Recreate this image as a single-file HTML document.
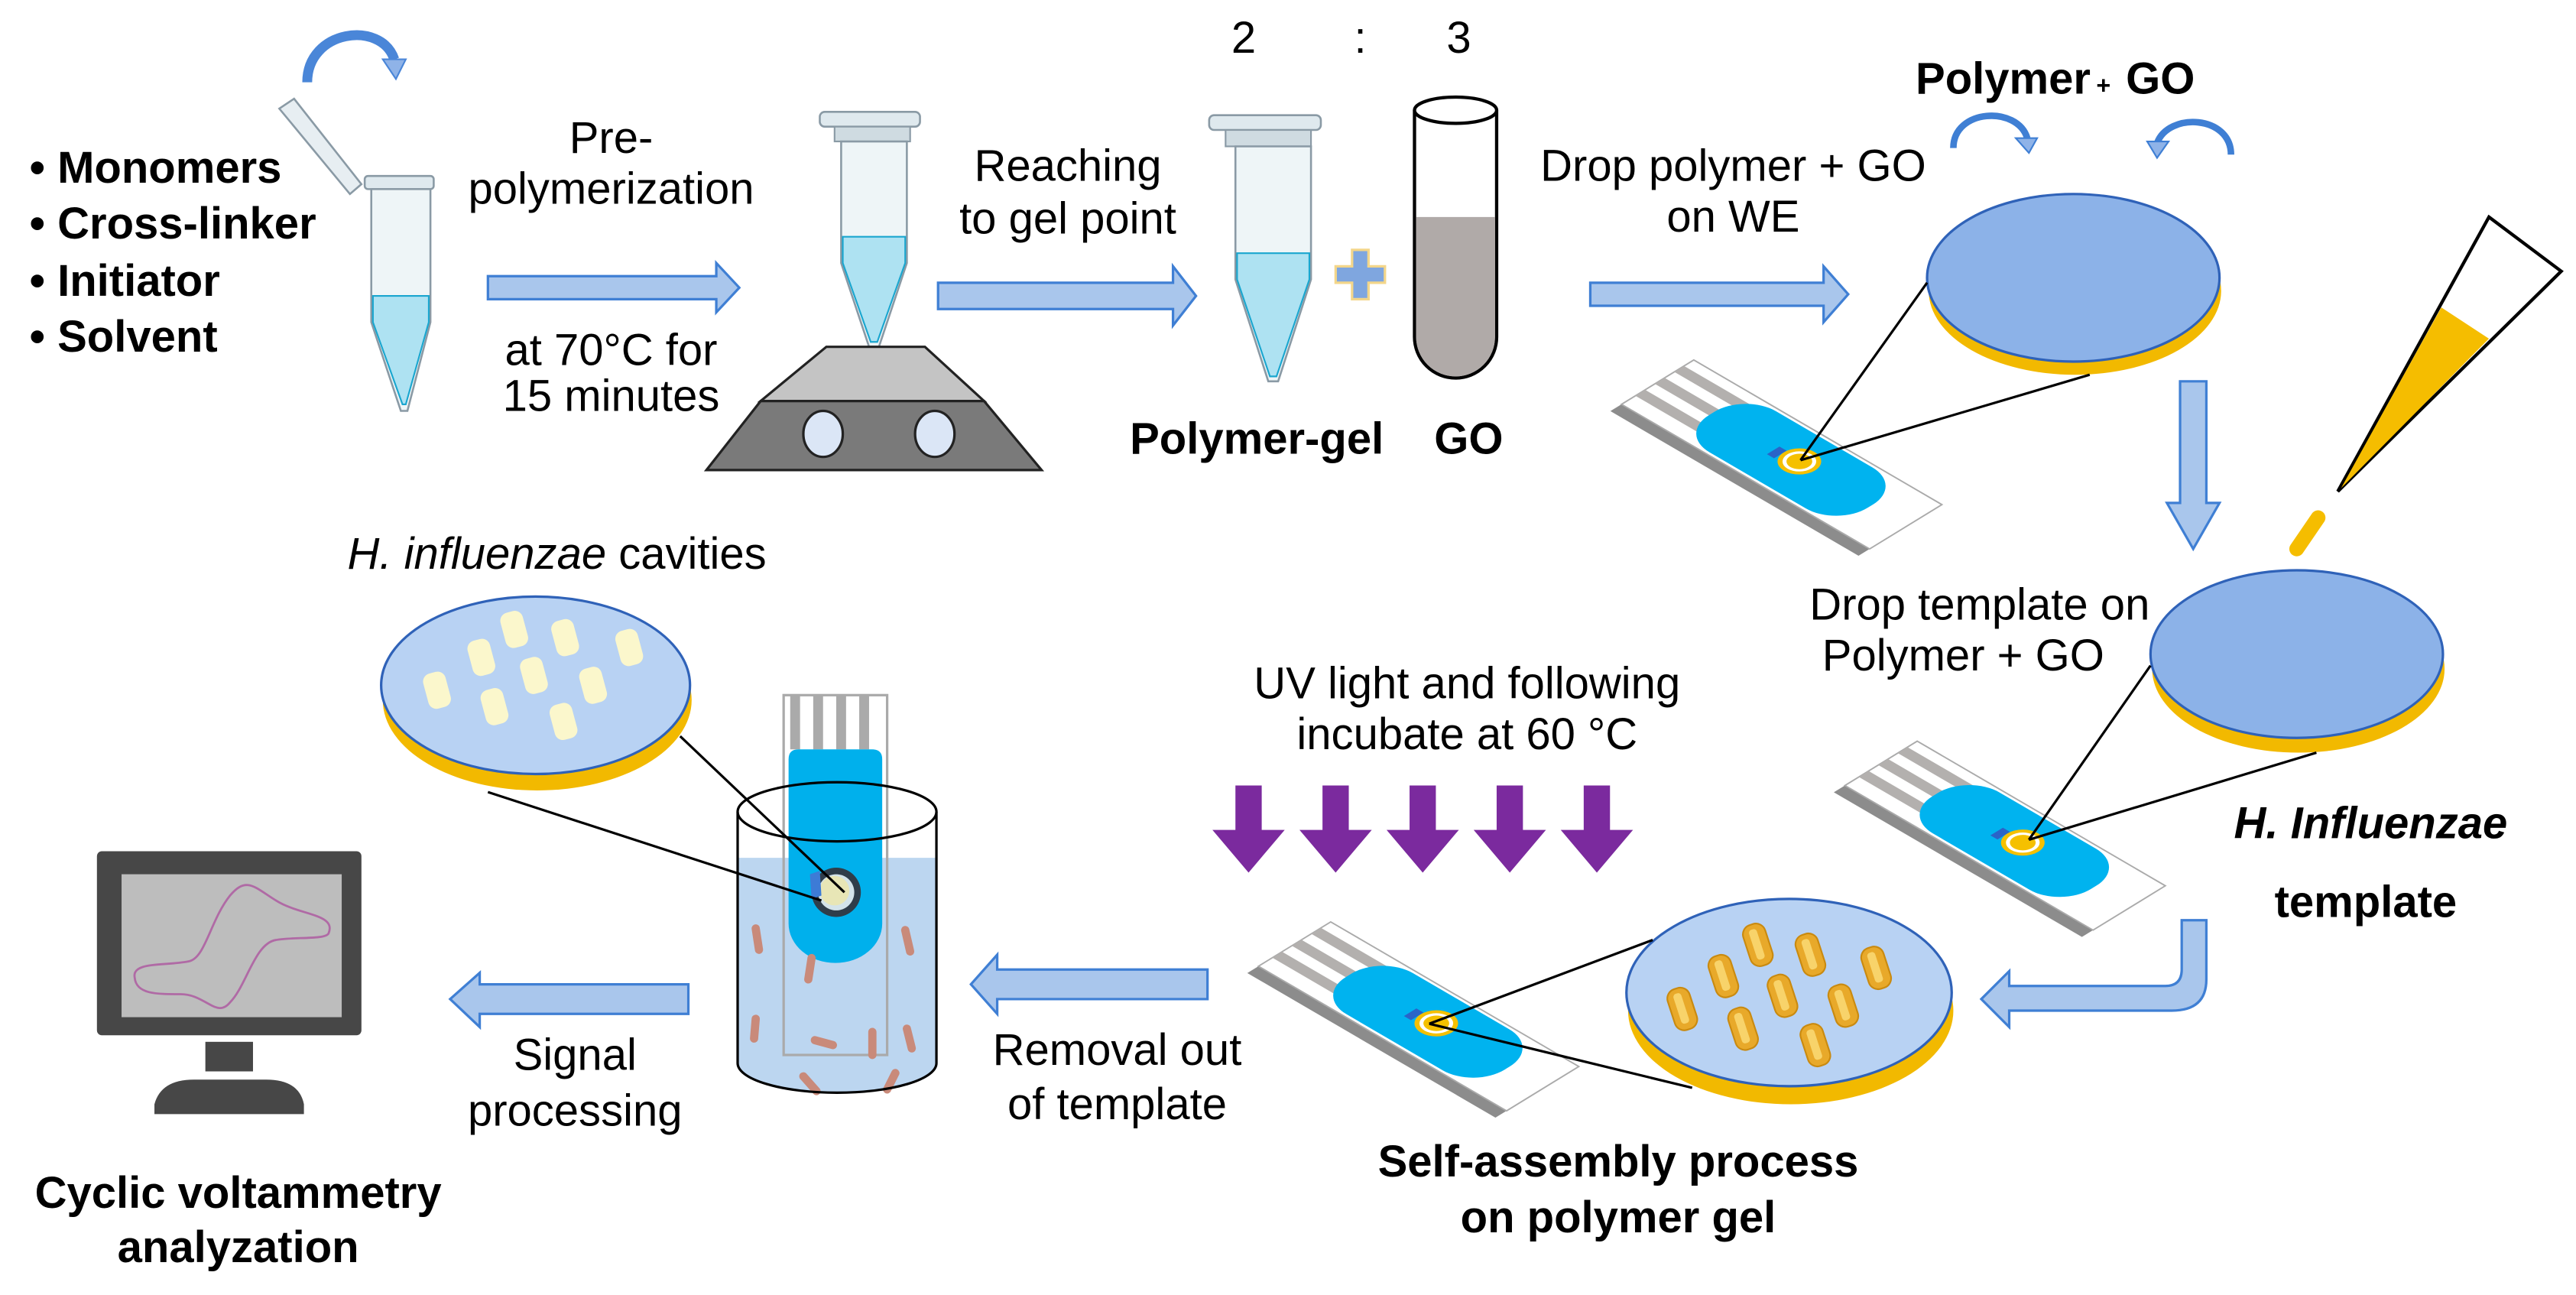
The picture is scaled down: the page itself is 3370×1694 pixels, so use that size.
<!DOCTYPE html>
<html><head><meta charset="utf-8"><style>
html,body{margin:0;padding:0;background:#fff;}
svg{display:block;}
text{font-family:"Liberation Sans",Arial,sans-serif;fill:#000;}
.t{font-size:27px;}
.b{font-size:27px;font-weight:bold;}
</style></head><body>
<svg width="3370" height="1694" viewBox="0 0 1568 788" xmlns="http://www.w3.org/2000/svg">
<defs>
  <g id="stripface">
    <rect x="0" y="0" width="175" height="52" fill="#fff" stroke="#aaa" stroke-width="1"/>
    <rect x="0" y="7" width="50" height="7" fill="#b3b0ae"/>
    <rect x="0" y="21" width="50" height="7" fill="#b3b0ae"/>
    <rect x="0" y="35" width="50" height="7" fill="#b3b0ae"/>
    <rect x="38" y="2" width="112" height="48" rx="22" fill="#00b3ef"/>
    <circle cx="98" cy="24" r="11" fill="#f5c000"/>
    <circle cx="98" cy="24" r="8.5" fill="#fff"/>
    <circle cx="98" cy="24" r="6.5" fill="#f5c000"/>
    <rect x="82" y="22" width="5" height="9" fill="#2a64c8"/>
  </g>
  <g id="strip">
    <g transform="translate(0,8)"><rect x="0" y="0" width="175" height="52" fill="#8c8c8c"/></g>
    <use href="#stripface"/>
  </g>
  <g id="rod">
    <rect x="-7" y="-13" width="14" height="26" rx="6" fill="#e8a92a" stroke="#c98a10" stroke-width="1"/>
    <rect x="-3" y="-10" width="5" height="19" rx="2" fill="#f8d36a"/>
  </g>
  <g id="cav"><rect x="-7" y="-11" width="14" height="22" rx="5" fill="#fbf7cc"/></g>
</defs>

<!-- Top-left bullets -->
<text x="18" y="111" class="b">• Monomers</text>
<text x="18" y="145" class="b">• Cross-linker</text>
<text x="18" y="180" class="b">• Initiator</text>
<text x="18" y="214" class="b">• Solvent</text>

<!-- curved arrow above tube 1 -->
<path d="M187,50 C187,18 232,12 240,36" fill="none" stroke="#4a86d8" stroke-width="6"/>
<polygon points="233,36 247,36 241,48" fill="#8fb3e8" stroke="#4a86d8" stroke-width="1"/>

<!-- Tube 1 with open cap -->
<polygon points="170,66 179,60 220,112 213,118" fill="#e7eef2" stroke="#8a9aa5" stroke-width="1.2"/>
<rect x="222" y="107" width="42" height="8" rx="2" fill="#dfe9ee" stroke="#8a9aa5" stroke-width="1.2"/>
<path d="M226,115 L262,115 L262,196 L248,250 L244,250 L226,196 Z" fill="#eef5f7" stroke="#8a9aa5" stroke-width="1.2"/>
<path d="M227,180 L261,180 L261,196 L247,246 L245,246 L227,196 Z" fill="#aee2f2" stroke="#1aa6cf" stroke-width="1"/>

<!-- Arrow 1 -->
<polygon points="297,168 436,168 436,160 450,175 436,190 436,182 297,182" fill="#a9c6ec" stroke="#3f7fd4" stroke-width="1.5"/>
<text x="372" y="93" class="t" text-anchor="middle">Pre-</text>
<text x="372" y="124" class="t" text-anchor="middle">polymerization</text>
<text x="372" y="222" class="t" text-anchor="middle">at 70°C for</text>
<text x="372" y="250" class="t" text-anchor="middle">15 minutes</text>

<!-- Tube 2 on heater -->
<rect x="499" y="68" width="61" height="9" rx="3" fill="#dfe9ee" stroke="#8a9aa5" stroke-width="1.2"/>
<rect x="508" y="77" width="46" height="9" fill="#cfdbe1" stroke="#8a9aa5" stroke-width="1"/>
<path d="M512,86 L552,86 L552,160 L535,211 L529,211 L512,160 Z" fill="#eef5f7" stroke="#8a9aa5" stroke-width="1.2"/>
<path d="M513,144 L551,144 L551,160 L534,208 L530,208 L513,160 Z" fill="#aee2f2" stroke="#1aa6cf" stroke-width="1"/>
<polygon points="503,211 563,211 599,244 463,244" fill="#c4c4c4" stroke="#222" stroke-width="1.5"/>
<polygon points="463,244 599,244 634,286 430,286" fill="#7a7a7a" stroke="#222" stroke-width="1.5"/>
<ellipse cx="501" cy="264" rx="12" ry="14" fill="#dbe6f6" stroke="#222" stroke-width="1.5"/>
<ellipse cx="569" cy="264" rx="12" ry="14" fill="#dbe6f6" stroke="#222" stroke-width="1.5"/>

<!-- Arrow 2 -->
<polygon points="571,172 714,172 714,162 728,180 714,198 714,188 571,188" fill="#a9c6ec" stroke="#3f7fd4" stroke-width="1.5"/>
<text x="650" y="110" class="t" text-anchor="middle">Reaching</text>
<text x="650" y="142" class="t" text-anchor="middle">to gel point</text>

<!-- ratio -->
<text x="757" y="32" class="t" text-anchor="middle">2</text>
<text x="828" y="32" class="t" text-anchor="middle">:</text>
<text x="888" y="32" class="t" text-anchor="middle">3</text>

<!-- Tube 3 -->
<rect x="736" y="70" width="68" height="9" rx="3" fill="#dfe9ee" stroke="#8a9aa5" stroke-width="1.2"/>
<rect x="746" y="79" width="52" height="10" fill="#cfdbe1" stroke="#8a9aa5" stroke-width="1"/>
<path d="M752,89 L798,89 L798,170 L778,232 L772,232 L752,170 Z" fill="#eef5f7" stroke="#8a9aa5" stroke-width="1.2"/>
<path d="M753,154 L797,154 L797,170 L777,229 L773,229 L753,170 Z" fill="#aee2f2" stroke="#1aa6cf" stroke-width="1"/>

<!-- plus -->
<path d="M823,152 h10 v10 h10 v10 h-10 v10 h-10 v-10 h-10 v-10 h10 Z" fill="#7fa6df" stroke="#f3d68a" stroke-width="1.5"/>

<!-- GO tube -->
<path d="M861,67 L861,205 A25,25 0 0 0 911,205 L911,67" fill="#fff" stroke="#000" stroke-width="2"/>
<path d="M862,132 L910,132 L910,205 A24,24 0 0 1 862,205 Z" fill="#b0aaa8"/>
<ellipse cx="886" cy="67" rx="25" ry="8" fill="#fff" stroke="#000" stroke-width="2"/>
<text x="765" y="276" class="b" text-anchor="middle">Polymer-gel</text>
<text x="894" y="276" class="b" text-anchor="middle">GO</text>

<!-- Arrow 3 -->
<polygon points="968,172 1110,172 1110,162 1125,179 1110,196 1110,186 968,186" fill="#a9c6ec" stroke="#3f7fd4" stroke-width="1.5"/>
<text x="1055" y="110" class="t" text-anchor="middle">Drop polymer + GO</text>
<text x="1055" y="141" class="t" text-anchor="middle">on WE</text>

<!-- Polymer + GO title -->
<text x="1166" y="57" class="b">Polymer</text>
<text x="1276" y="57" style="font-size:15px;font-weight:bold">+</text>
<text x="1294" y="57" class="b">GO</text>
<path d="M1189,90 C1189,66 1228,64 1234,84" fill="none" stroke="#3f7fd4" stroke-width="4"/>
<polygon points="1227,84 1240,84 1235,93" fill="#8fb3e8" stroke="#3f7fd4" stroke-width="1"/>
<path d="M1358,94 C1358,70 1320,68 1313,87" fill="none" stroke="#3f7fd4" stroke-width="4"/>
<polygon points="1307,86 1320,86 1313,96" fill="#8fb3e8" stroke="#3f7fd4" stroke-width="1"/>

<!-- Disc 1 -->
<ellipse cx="1263" cy="177" rx="89" ry="51" fill="#f2b900"/>
<ellipse cx="1262" cy="169" rx="89" ry="51" fill="#8cb2e8" stroke="#2f62b8" stroke-width="1.5"/>
<!-- Strip 1 -->
<use href="#strip" transform="matrix(0.863,0.503,-0.846,0.519,1031,219)"/>
<line x1="1096" y1="280" x2="1173" y2="172" stroke="#000" stroke-width="1.5"/>
<line x1="1096" y1="280" x2="1272" y2="228" stroke="#000" stroke-width="1.5"/>

<!-- Down arrow -->
<polygon points="1327,232 1343,232 1343,306 1351,306 1335,334 1319,306 1327,306" fill="#a9c6ec" stroke="#3f7fd4" stroke-width="1.5"/>

<!-- Pipette -->
<polygon points="1515,132 1559,165 1423,299" fill="#fff" stroke="#000" stroke-width="2"/>
<polygon points="1486,187 1515,206 1425,297" fill="#f5bd00"/>
<line x1="1398" y1="334" x2="1411" y2="315" stroke="#f5bd00" stroke-width="9" stroke-linecap="round"/>

<!-- Drop template text -->
<text x="1205" y="377" class="t" text-anchor="middle">Drop template on</text>
<text x="1195" y="408" class="t" text-anchor="middle">Polymer + GO</text>

<!-- Disc 2 -->
<ellipse cx="1399" cy="407" rx="89" ry="51" fill="#f2b900"/>
<ellipse cx="1398" cy="398" rx="89" ry="51" fill="#8cb2e8" stroke="#2f62b8" stroke-width="1.5"/>
<use href="#strip" transform="matrix(0.863,0.503,-0.846,0.519,1167,451)"/>
<line x1="1235" y1="511" x2="1309" y2="405" stroke="#000" stroke-width="1.5"/>
<line x1="1235" y1="511" x2="1410" y2="458" stroke="#000" stroke-width="1.5"/>

<text x="1443" y="510" style="font-size:27px;font-weight:bold;font-style:italic" text-anchor="middle">H. Influenzae</text>
<text x="1440" y="558" class="b" text-anchor="middle">template</text>

<!-- Bent arrow -->
<path d="M1328,560 L1343,560 L1343,596 Q1343,615 1322,615 L1223,615 L1223,625 L1206,608 L1223,591 L1223,600 L1318,600 Q1328,600 1328,590 Z" fill="#a9c6ec" stroke="#3f7fd4" stroke-width="1.5"/>

<!-- Disc 3 -->
<ellipse cx="1090" cy="615" rx="99" ry="57" fill="#f2b900"/>
<ellipse cx="1089" cy="604" rx="99" ry="57" fill="#b8d2f3" stroke="#2f62b8" stroke-width="1.5"/>
<use href="#rod" transform="translate(1070,575) rotate(-18)"/>
<use href="#rod" transform="translate(1102,581) rotate(-18)"/>
<use href="#rod" transform="translate(1142,589) rotate(-18)"/>
<use href="#rod" transform="translate(1049,594) rotate(-18)"/>
<use href="#rod" transform="translate(1085,606) rotate(-18)"/>
<use href="#rod" transform="translate(1122,612) rotate(-18)"/>
<use href="#rod" transform="translate(1024,614) rotate(-18)"/>
<use href="#rod" transform="translate(1061,626) rotate(-18)"/>
<use href="#rod" transform="translate(1105,636) rotate(-18)"/>
<use href="#strip" transform="matrix(0.863,0.503,-0.846,0.519,810,561)"/>
<line x1="870" y1="623" x2="1006" y2="572" stroke="#000" stroke-width="1.5"/>
<line x1="870" y1="623" x2="1030" y2="662" stroke="#000" stroke-width="1.5"/>

<text x="985" y="716" class="b" text-anchor="middle">Self-assembly process</text>
<text x="985" y="750" class="b" text-anchor="middle">on polymer gel</text>

<!-- UV -->
<text x="893" y="425" class="t" text-anchor="middle">UV light and following</text>
<text x="893" y="456" class="t" text-anchor="middle">incubate at 60 °C</text>
<g fill="#7b2a9e">
<polygon points="752,478 768,478 768,505 782,505 760,531 738,505 752,505"/>
<polygon points="805,478 821,478 821,505 835,505 813,531 791,505 805,505"/>
<polygon points="858,478 874,478 874,505 888,505 866,531 844,505 858,505"/>
<polygon points="911,478 927,478 927,505 941,505 919,531 897,505 911,505"/>
<polygon points="964,478 980,478 980,505 994,505 972,531 950,505 964,505"/>
</g>

<!-- Removal arrow -->
<polygon points="735,590 607,590 607,581 591,599 607,617 607,608 735,608" fill="#a9c6ec" stroke="#3f7fd4" stroke-width="1.5"/>
<text x="680" y="648" class="t" text-anchor="middle">Removal out</text>
<text x="680" y="681" class="t" text-anchor="middle">of template</text>

<!-- Beaker -->
<path d="M449,522 L449,647 A60.5,18 0 0 0 570,647 L570,522 Z" fill="#bcd6f0"/>
<rect x="477" y="423" width="63" height="219" fill="none" stroke="#aaa" stroke-width="1.5"/>
<rect x="481" y="423" width="6" height="33" fill="#aaa"/>
<rect x="495" y="423" width="6" height="33" fill="#aaa"/>
<rect x="509" y="423" width="6" height="33" fill="#aaa"/>
<rect x="523" y="423" width="6" height="33" fill="#aaa"/>
<path d="M480,462 Q480,456 486,456 L531,456 Q537,456 537,462 L537,562 A28.5,24 0 0 1 480,562 Z" fill="#00b0ec"/>
<circle cx="509" cy="543" r="15" fill="#2f3d4a"/>
<circle cx="509" cy="543" r="11" fill="#d3e3ea"/>
<circle cx="508" cy="542" r="9" fill="#e8e6b6"/>
<path d="M493,532 L499,530 L500,545 L494,547 Z" fill="#3d7bd6"/>
<g stroke="#c98a7a" stroke-width="5" stroke-linecap="round">
<line x1="460" y1="565" x2="462" y2="578"/>
<line x1="494" y1="583" x2="492" y2="596"/>
<line x1="551" y1="566" x2="554" y2="579"/>
<line x1="460" y1="620" x2="459" y2="632"/>
<line x1="496" y1="633" x2="507" y2="636"/>
<line x1="531" y1="628" x2="531" y2="642"/>
<line x1="552" y1="626" x2="555" y2="638"/>
<line x1="489" y1="655" x2="497" y2="664"/>
<line x1="545" y1="653" x2="540" y2="663"/>
</g>
<path d="M449,494 L449,647 A60.5,18 0 0 0 570,647 L570,494" fill="none" stroke="#000" stroke-width="1.5"/>
<ellipse cx="509.5" cy="494" rx="60.5" ry="18" fill="none" stroke="#000" stroke-width="1.5"/>

<!-- Disc 4 -->
<ellipse cx="327" cy="426" rx="94" ry="55" fill="#f2b900"/>
<ellipse cx="326" cy="417" rx="94" ry="54" fill="#b8d2f3" stroke="#2f62b8" stroke-width="1.5"/>
<use href="#cav" transform="translate(313,383) rotate(-15)"/>
<use href="#cav" transform="translate(344,388) rotate(-15)"/>
<use href="#cav" transform="translate(383,394) rotate(-15)"/>
<use href="#cav" transform="translate(293,400) rotate(-15)"/>
<use href="#cav" transform="translate(325,411) rotate(-15)"/>
<use href="#cav" transform="translate(361,417) rotate(-15)"/>
<use href="#cav" transform="translate(266,420) rotate(-15)"/>
<use href="#cav" transform="translate(301,430) rotate(-15)"/>
<use href="#cav" transform="translate(343,439) rotate(-15)"/>
<line x1="414" y1="448" x2="514" y2="543" stroke="#000" stroke-width="1.5"/>
<line x1="297" y1="482" x2="500" y2="548" stroke="#000" stroke-width="1.5"/>
<text x="339" y="346" style="font-size:27px;font-style:italic" text-anchor="middle">H. influenzae <tspan style="font-style:normal">cavities</tspan></text>

<!-- Signal arrow -->
<polygon points="419,599 292,599 292,592 274,608 292,625 292,617 419,617" fill="#a9c6ec" stroke="#3f7fd4" stroke-width="1.5"/>
<text x="350" y="651" class="t" text-anchor="middle">Signal</text>
<text x="350" y="685" class="t" text-anchor="middle">processing</text>

<!-- Monitor -->
<rect x="59" y="518" width="161" height="112" rx="3" fill="#474747"/>
<rect x="74" y="532" width="134" height="87" fill="#bdbdbd"/>
<path d="M82,595 C80,585 100,588 115,585 C125,583 128,560 140,545 C150,533 155,540 168,548 C182,557 205,556 200,568 C198,572 178,570 168,572 C155,574 150,600 140,610 C132,620 125,605 110,605 C95,605 83,605 82,595 Z" fill="none" stroke="#b06aa5" stroke-width="1.3"/>
<rect x="125" y="634" width="29" height="18" fill="#474747"/>
<path d="M94,678 L94,672 Q98,657 118,657 L162,657 Q182,657 185,672 L185,678 Z" fill="#474747"/>
<text x="145" y="735" class="b" text-anchor="middle">Cyclic voltammetry</text>
<text x="145" y="768" class="b" text-anchor="middle">analyzation</text>
</svg>
</body></html>
